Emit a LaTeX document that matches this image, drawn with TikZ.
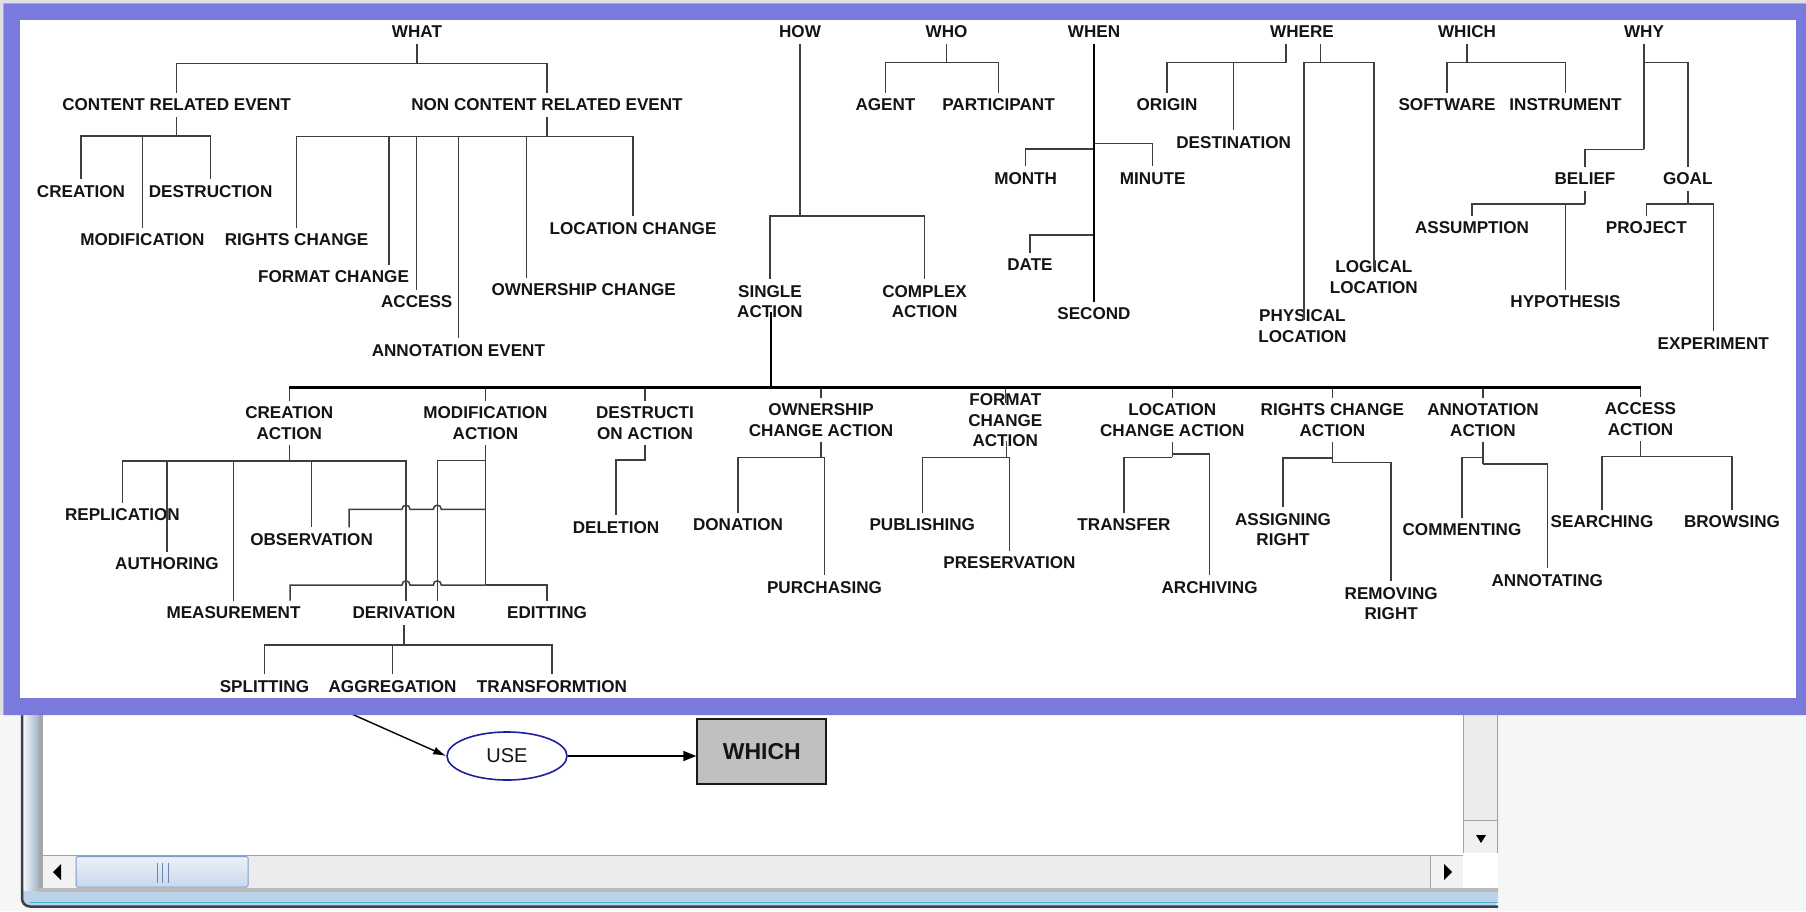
\documentclass[tikz,border=0pt]{standalone}
\usepackage{fontspec}
\usetikzlibrary{arrows.meta,shapes.geometric,calc}
\newfontfamily\lblfam{Liberation Sans}
\definecolor{framepurple}{RGB}{122,122,221}
\definecolor{pagebg}{RGB}{245,246,246}
\definecolor{strip}{RGB}{222,222,228}
\definecolor{winframe}{RGB}{188,210,232}
\definecolor{winedge}{RGB}{59,64,72}
\definecolor{winline}{RGB}{70,170,220}
\definecolor{track}{RGB}{236,236,236}
\definecolor{sbline}{RGB}{163,163,163}
\definecolor{thumbedge}{RGB}{125,157,211}
\definecolor{usecol}{RGB}{30,30,160}
\definecolor{boxgray}{RGB}{192,192,192}
\definecolor{linegray}{RGB}{62,62,62}
\definecolor{textblack}{RGB}{20,20,20}
\tikzset{
  lbl/.style={font=\lblfam\bfseries\fontsize{17.1pt}{20.7pt}\selectfont, text=textblack,
    inner xsep=0pt, inner ysep=6pt, outer sep=0pt, align=center},
  edge/.style={draw=linegray, line width=1.5pt},
  trunk/.style={draw=black, line width=2.2pt},
}
\begin{document}
\begin{tikzpicture}[x=1pt,y=-1pt]
\useasboundingbox (0,0) rectangle (1806,911);
% page background and screen strips
\fill[pagebg] (0,0) rectangle (1806,911);
\fill[strip] (0,0) rectangle (1806,3.3);
\fill[strip] (0,0) rectangle (3.3,715);

% ---------- application window below the tree ----------
\fill[winframe, rounded corners=8pt] (21,700) |- (1498,907) [sharp corners] -- (1498,700) -- cycle;
\shade[left color=white!80!winframe, right color=winframe!85!black] (23.5,700) rectangle (39,890);
\draw[winedge, line width=2.5pt, rounded corners=8pt] (22,700) |- (1498,906.5);
\draw[winline, line width=1pt] (30,902.5) -- (1498,902.5);
\fill[gray!70] (39,700) rectangle (43,892);
\fill[gray!55] (39,888) rectangle (1498,892);
% content area
\fill[white] (43,700) rectangle (1463,855);
% vertical scroll bar
\fill[track] (1463,700) rectangle (1498,853);
\draw[sbline, line width=1pt] (1463.5,700) -- (1463.5,853);
\draw[sbline, line width=1pt] (1497,700) -- (1497,853);
\fill[white!94!black] (1464,820) rectangle (1497,853);
\draw[sbline, line width=1pt] (1464,820) -- (1497,820) (1464,853) -- (1497,853);
\fill[black] (1476,835) -- (1486,835) -- (1481,843) -- cycle;
% horizontal scroll bar
\fill[track] (43,855) rectangle (1463,888);
\draw[sbline, line width=1pt] (43,855.5) -- (1463,855.5);
\fill[white!95!black] (43,856) rectangle (75,888);
\fill[black] (61,864) -- (53,872) -- (61,880) -- cycle;
\shade[top color=white!85!thumbedge, bottom color=white!60!thumbedge, draw=thumbedge, line width=1pt, rounded corners=1.5pt]
  (76,856.5) rectangle (248,887);
\draw[thumbedge!85!black, line width=1pt] (157.5,863) -- (157.5,883) (162.7,863) -- (162.7,883) (168,863) -- (168,883);
\fill[white!95!black] (1430,856) rectangle (1463,888);
\draw[sbline, line width=1pt] (1430,856) -- (1430,888);
\fill[black] (1444,864) -- (1452,872) -- (1444,880) -- cycle;
\fill[white] (1463,853) rectangle (1498,888);

% USE relation and WHICH class
\node[ellipse, draw=usecol, line width=1.6pt, fill=white, minimum width=120pt, minimum height=48pt, inner sep=0pt,
  font=\lblfam\fontsize{20pt}{24pt}\selectfont, text=textblack] (use) at (507,756) {USE};
\node[rectangle, draw=black!90, line width=2pt, fill=boxgray, minimum width=129pt, minimum height=65pt, inner sep=0pt,
  font=\lblfam\bfseries\fontsize{23pt}{27pt}\selectfont, text=textblack] (whichbox) at (761.8,751.5) {WHICH};
\coordinate (usefoot) at (327,703);
\draw[black, line width=1.4pt, -{Latex[length=13pt,width=8pt]}] (usefoot) -- (use.west);
\draw[black, line width=1.6pt, -{Triangle[length=13pt,width=10pt]}] (use.east) -- (use.east -| whichbox.west);

% ---------- purple frame around the tree ----------
\fill[framepurple, even odd rule] (3.3,3.3) rectangle (1806,715) (20,20) rectangle (1796,698);
\fill[white] (20,20) rectangle (1796,698);

% ---------- question words ----------
\node[lbl] (what) at (417,31.8) {WHAT};
\node[lbl] (how) at (800,31.8) {HOW};
\node[lbl] (who) at (946.5,31.8) {WHO};
\node[lbl] (when) at (1094,31.8) {WHEN};
\node[lbl] (where) at (1302,31.8) {WHERE};
\node[lbl] (which) at (1467,31.8) {WHICH};
\node[lbl] (why) at (1644,31.8) {WHY};

% ---------- upper concepts ----------
\node[lbl] (cre) at (176.6,105) {CONTENT RELATED EVENT};
\node[lbl] (ncre) at (547,105) {NON CONTENT RELATED EVENT};
\node[lbl] (agent) at (885.5,105) {AGENT};
\node[lbl] (participant) at (998.5,105) {PARTICIPANT};
\node[lbl] (origin) at (1167,105) {ORIGIN};
\node[lbl] (software) at (1447,105) {SOFTWARE};
\node[lbl] (instrument) at (1565.5,105) {INSTRUMENT};

\node[lbl] (creation) at (81,191.3) {CREATION};
\node[lbl] (destruction) at (210.6,191.3) {DESTRUCTION};
\node[lbl] (modification) at (142.4,239.7) {MODIFICATION};
\node[lbl] (rightschg) at (296.6,239.7) {RIGHTS CHANGE};
\node[lbl] (formatchg) at (333.6,277) {FORMAT CHANGE};
\node[lbl] (access) at (416.7,301.7) {ACCESS};
\node[lbl] (annotev) at (458.4,350.3) {ANNOTATION EVENT};
\node[lbl] (ownerchg) at (583.7,289.7) {OWNERSHIP CHANGE};
\node[lbl] (locchg) at (633,228.3) {LOCATION CHANGE};

\node[lbl] (single) at (770,301.7) {SINGLE\\ACTION};
\node[lbl] (complex) at (924.6,301.7) {COMPLEX\\ACTION};
\node[lbl] (month) at (1025.6,178.3) {MONTH};
\node[lbl] (minute) at (1152.7,178.3) {MINUTE};
\node[lbl] (date) at (1030,264.7) {DATE};
\node[lbl] (second) at (1094,313.7) {SECOND};
\node[lbl] (destination) at (1233.7,142.2) {DESTINATION};
\node[lbl] (physical) at (1302.4,326) {PHYSICAL\\LOCATION};
\node[lbl] (logical) at (1373.8,277.4) {LOGICAL\\LOCATION};
\node[lbl] (belief) at (1585,178.8) {BELIEF};
\node[lbl] (goal) at (1687.8,178.8) {GOAL};
\node[lbl] (assumption) at (1472,227.7) {ASSUMPTION};
\node[lbl] (hypothesis) at (1565.5,301.7) {HYPOTHESIS};
\node[lbl] (project) at (1646.3,227.7) {PROJECT};
\node[lbl] (experiment) at (1713.3,343.3) {EXPERIMENT};

% ---------- actions ----------
\node[lbl] (creact) at (289.3,423) {CREATION\\ACTION};
\node[lbl] (modact) at (485.5,423) {MODIFICATION\\ACTION};
\node[lbl] (destact) at (645,423) {DESTRUCTI\\ON ACTION};
\node[lbl] (ownact) at (821,420) {OWNERSHIP\\CHANGE ACTION};
\node[lbl] (fmtact) at (1005.3,420.2) {FORMAT\\CHANGE\\ACTION};
\node[lbl] (locact) at (1172.3,420) {LOCATION\\CHANGE ACTION};
\node[lbl] (rightsact) at (1332.4,420) {RIGHTS CHANGE\\ACTION};
\node[lbl] (annact) at (1483,420) {ANNOTATION\\ACTION};
\node[lbl] (accact) at (1640.5,419) {ACCESS\\ACTION};

\node[lbl] (replication) at (122.4,515) {REPLICATION};
\node[lbl] (authoring) at (167,563.7) {AUTHORING};
\node[lbl] (measurement) at (233.5,612.7) {MEASUREMENT};
\node[lbl] (observation) at (311.6,539.3) {OBSERVATION};
\node[lbl] (derivation) at (404,612.7) {DERIVATION};
\node[lbl] (editting) at (547,612.7) {EDITTING};
\node[lbl] (splitting) at (264.4,686.3) {SPLITTING};
\node[lbl] (aggregation) at (392.6,686.3) {AGGREGATION};
\node[lbl] (transformtion) at (552,686.3) {TRANSFORMTION};
\node[lbl] (deletion) at (616,527.3) {DELETION};
\node[lbl] (donation) at (738,525) {DONATION};
\node[lbl] (purchasing) at (824.5,587.3) {PURCHASING};
\node[lbl] (publishing) at (922.3,525) {PUBLISHING};
\node[lbl] (preservation) at (1009.5,562.7) {PRESERVATION};
\node[lbl] (transfer) at (1124,525) {TRANSFER};
\node[lbl] (archiving) at (1209.6,587.3) {ARCHIVING};
\node[lbl] (assigning) at (1283,529.7) {ASSIGNING\\RIGHT};
\node[lbl] (removing) at (1391.2,603.7) {REMOVING\\RIGHT};
\node[lbl] (commenting) at (1462,529.7) {COMMENTING};
\node[lbl] (annotating) at (1547.3,580.3) {ANNOTATING};
\node[lbl] (searching) at (1602,522) {SEARCHING};
\node[lbl] (browsing) at (1732,522) {BROWSING};

% ---------- connectors: WHAT ----------
\coordinate (whatbar) at (417,63.3);
\draw[edge] (what.south) -- (whatbar) (whatbar) -| (cre.north) (whatbar) -| (ncre.north);
\coordinate (crebar) at (176.6,136);
\draw[edge] (cre.south) -- (crebar) foreach \c in {creation,modification,destruction} {(crebar) -| (\c.north)};
\coordinate (ncrebar) at (547,136.7);
\draw[edge] (ncre.south) -- (ncrebar)
  foreach \c in {rightschg,access,annotev,locchg} {(ncrebar) -| (\c.north)}
  (ncrebar) -| ([xshift=55.4pt]formatchg.north)
  (ncrebar) -| ([xshift=-57.1pt]ownerchg.north);

% HOW
\coordinate (howbar) at (800,216);
\draw[edge] (how.south) -- (howbar) (howbar) -| (single.north) (howbar) -| (complex.north);

% WHO
\coordinate (whobar) at (946.5,62.7);
\draw[edge] (who.south) -- (whobar) (whobar) -| (agent.north) (whobar) -| (participant.north);

% WHEN
\coordinate (whenb1) at (1094,143.3);
\coordinate (whenb2) at (1094,149);
\coordinate (whenb3) at (1094,235);
\draw[edge] (whenb1) -| (minute.north) (whenb2) -| (month.north) (whenb3) -| (date.north);
\draw[trunk] (when.south) -- (second.north);

% WHERE
\coordinate (wherebarA) at (1286,62.7);
\coordinate (wherebarB) at (1320.7,62.7);
\draw[edge] ([xshift=-16pt]where.south) -- (wherebarA)
  (wherebarA) -| (origin.north) (wherebarA) -| (destination.north);
\draw[edge] ([xshift=18.7pt]where.south) -- (wherebarB)
  (wherebarB) -| ([shift={(1.4,-6)}]physical.center)
  (wherebarB) -| ([shift={(0.2,-9.4)}]logical.center);

% WHICH
\coordinate (whichbar) at (1467,62.7);
\draw[edge] (which.south) -- (whichbar) (whichbar) -| (software.north) (whichbar) -| (instrument.north);

% WHY
\coordinate (whyb1) at (1644,62.7);
\coordinate (whyb2) at (1644,149.3);
\draw[edge] (why.south) -- (whyb2) (whyb1) -| (goal.north) (whyb2) -| (belief.north);
\coordinate (beliefbar) at (1585,204);
\draw[edge] (belief.south) -- (beliefbar) (beliefbar) -| (assumption.north) (beliefbar) -| (hypothesis.north);
\coordinate (goalbar) at (1687.8,204);
\draw[edge] (goal.south) -- (goalbar) (goalbar) -| (project.north) (goalbar) -| (experiment.north);

% ---------- single action bus ----------
\coordinate (busjoin) at (771,387.5);
\draw[edge] foreach \c in {creact,modact,destact,ownact,locact,rightsact,annact,accact} {(busjoin) -| (\c.north)}
  (busjoin) -| ([shift={(0,-17)}]fmtact.center);
\draw[trunk] ([shift={(1,10)}]single.center) -- (busjoin);
\draw[trunk] (creact.north |- busjoin) -- (accact.north |- busjoin);

% creation action
\coordinate (cabar) at (289.3,461);
\draw[edge] (creact.south) -- (cabar)
  foreach \c in {replication,authoring,measurement,observation} {(cabar) -| (\c.north)}
  (cabar) -| ([xshift=2pt]derivation.north);

% modification action, with hops over the derivation lines
\coordinate (mab1) at (485.5,460.7);
\coordinate (mab2) at (485.5,509.3);
\coordinate (mab3) at (485.5,585);
\draw[edge] (modact.south) -- (mab3) (mab1) -| ([xshift=33.3pt]derivation.north) (mab3) -| (editting.north);
\draw[edge] (mab2) -- (441.3,509.3) .. controls (441.3,503.8) and (433.3,503.8) .. (433.3,509.3)
  -- (410,509.3) .. controls (410,503.8) and (402,503.8) .. (402,509.3)
  -| ([xshift=37.4pt]observation.north);
\draw[edge] (mab3) -- (441.3,585) .. controls (441.3,579.5) and (433.3,579.5) .. (433.3,585)
  -- (410,585) .. controls (410,579.5) and (402,579.5) .. (402,585)
  -| ([xshift=56.5pt]measurement.north);

% derivation
\coordinate (derbar) at (404,645);
\draw[edge] (derivation.south) -- (derbar) foreach \c in {splitting,aggregation,transformtion} {(derbar) -| (\c.north)};

% destruction action
\coordinate (dabar) at (645,460);
\draw[edge] (destact.south) -- (dabar) -| (deletion.north);

% ownership change action
\coordinate (ownbar) at (821,457.3);
\draw[edge] (ownact.south) -- (ownbar) (ownbar) -| (donation.north) (ownbar) -| (purchasing.north);

% format change action
\coordinate (fmtbar) at (1006.7,457.3);
\draw[edge] ([shift={(1.4,21)}]fmtact.center) -- (fmtbar)
  (fmtbar) -| (publishing.north) (fmtbar) -| (preservation.north);

% location change action
\coordinate (locbar) at (1172.3,457.3);
\coordinate (locbarB) at (1172.3,454);
\draw[edge] (locact.south) -- (locbar) (locbar) -| (transfer.north) (locbarB) -| (archiving.north);

% rights change action
\coordinate (rbarA) at (1332.4,458);
\coordinate (rbarB) at (1332.4,462.7);
\draw[edge] (rightsact.south) -- (rbarB) (rbarA) -| (assigning.north) (rbarB) -| (removing.north);

% annotation action
\coordinate (abarA) at (1483,457.3);
\coordinate (abarB) at (1483,464);
\draw[edge] (annact.south) -- (abarB) (abarA) -| (commenting.north) (abarB) -| (annotating.north);

% access action
\coordinate (accbar) at (1640.5,456.7);
\draw[edge] (accact.south) -- (accbar) (accbar) -| (searching.north) (accbar) -| (browsing.north);
\end{tikzpicture}
\end{document}
